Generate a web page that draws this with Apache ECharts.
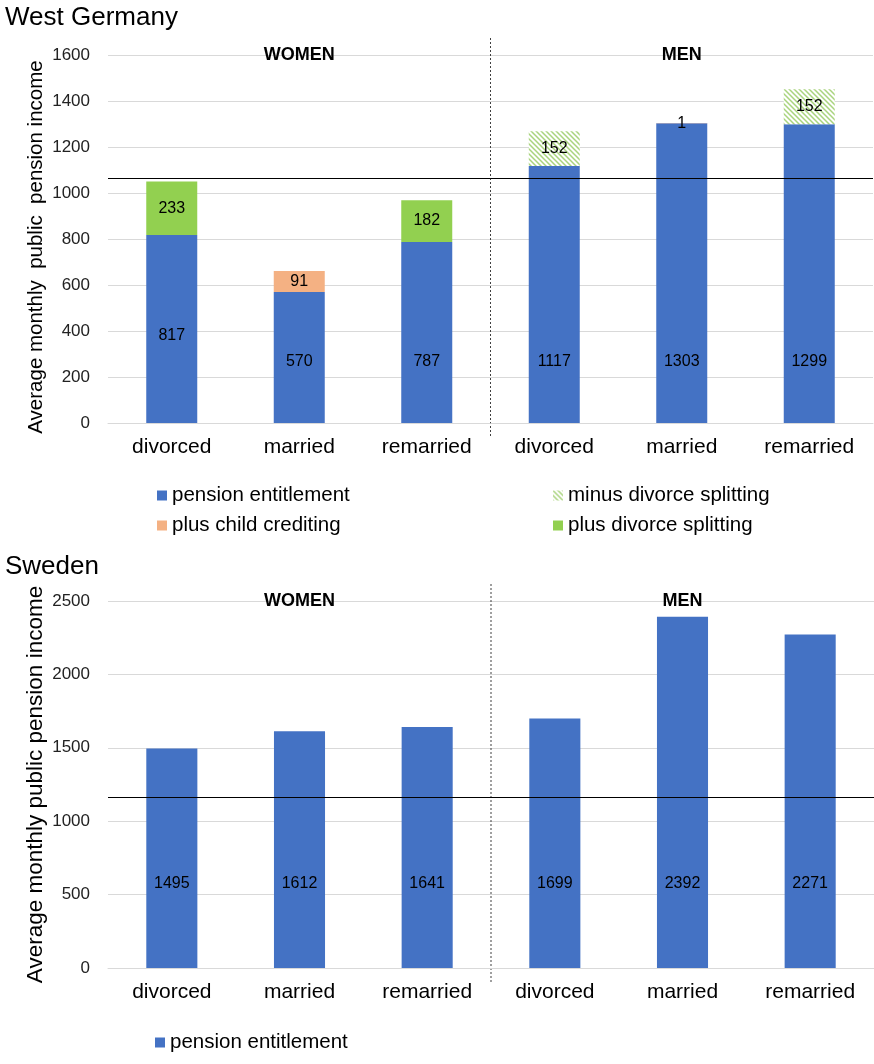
<!DOCTYPE html>
<html>
<head>
<meta charset="utf-8">
<script src="https://cdn.jsdelivr.net/npm/echarts@6/dist/echarts.min.js"></script>
<style>
html,body{margin:0;padding:0;background:#fff;}
#c{width:874px;height:1064px;}
</style>
</head>
<body>
<div id="c"></div>
<script>
// ---- data ----
const categories = ['divorced', 'married', 'remarried', 'divorced', 'married', 'remarried'];
const groups = ['WOMEN', 'MEN'];
const deTitle = 'West Germany';
const seTitle = 'Sweden';
const yName = 'Average monthly  public  pension income';
const yNameSe = 'Average monthly public pension income';

const dePension = [817, 570, 787, 1117, 1303, 1299];
const deChild = [0, 91, 0, 0, 1, 0];
const dePlusSplit = [233, 0, 182, 0, 0, 0];
const deMinusSplit = [0, 0, 0, 152, 0, 152];
const deRef = 1065;

const sePension = [1495, 1612, 1641, 1699, 2392, 2271];
const seRef = 1165;

const deAxis = { min: 0, max: 1600, interval: 200 };
const seAxis = { min: 0, max: 2500, interval: 500 };

// ---- style ----
const FONT = 'Liberation Sans, Arial, sans-serif';
const C_PENSION = '#4472c4', C_CHILD = '#f4b183', C_PLUS = '#92d050';

function hatch() {
  const s = 5;
  const c = document.createElement('canvas');
  c.width = s; c.height = s;
  const g = c.getContext('2d');
  g.fillStyle = '#ffffff'; g.fillRect(0, 0, s, s);
  g.strokeStyle = '#a9d47e'; g.lineWidth = 1.5;
  g.beginPath();
  g.moveTo(0, 0); g.lineTo(s, s);
  g.moveTo(-1, s - 1); g.lineTo(1, s + 1);
  g.moveTo(s - 1, -1); g.lineTo(s + 1, 1);
  g.stroke();
  return { image: c, repeat: 'repeat' };
}
const C_MINUS = hatch();

const hide0 = p => (p.value ? String(p.value) : '');
const inLabel = { show: true, position: 'inside', color: '#000', fontSize: 16, fontFamily: FONT, formatter: hide0 };

function refLine(v) {
  return { silent: true, symbol: 'none', label: { show: false },
    lineStyle: { color: '#000', width: 1, type: 'solid' }, data: [{ yAxis: v }] };
}

function pensionItems(vals, lift, special) {
  return vals.map((v, i) => ({ value: v, label: { distance: (special && special[i] != null) ? special[i] : lift } }));
}

const xAxisBase = (gi) => ({
  type: 'category', gridIndex: gi, data: categories,
  axisLine: { lineStyle: { color: '#d9d9d9', width: 1 } },
  axisTick: { show: false },
  axisLabel: { color: '#000', fontSize: 21, fontFamily: FONT, margin: 14 }
});
const yAxisBase = (gi, ax, name, nameSize, namePad) => ({
  type: 'value', gridIndex: gi, min: ax.min, max: ax.max, interval: ax.interval,
  name: name, nameLocation: 'middle', nameGap: 61, nameMoveOverlap: false,
  nameTextStyle: { color: '#000', fontSize: nameSize, fontFamily: FONT, padding: namePad },
  axisLine: { show: false }, axisTick: { show: false },
  axisLabel: { color: '#222', fontSize: 17, fontFamily: FONT, margin: 18, formatter: v => String(v) },
  splitLine: { lineStyle: { color: '#d9d9d9', width: 1 } }
});

const legendText = { fontSize: 20.5, color: '#000', fontFamily: FONT };

const chart = echarts.init(document.getElementById('c'), null, { renderer: 'canvas' });
const option = {
  animation: false,
  backgroundColor: '#fff',
  title: [
    { text: deTitle, left: 0, top: 0, textStyle: { fontSize: 26, fontWeight: 'normal', color: '#000', fontFamily: FONT } },
    { text: seTitle, left: 0, top: 549, textStyle: { fontSize: 26, fontWeight: 'normal', color: '#000', fontFamily: FONT } }
  ],
  grid: [
    { left: 108, top: 55, width: 765, height: 368 },
    { left: 108, top: 601, width: 766, height: 367 }
  ],
  legend: [
    { data: ['pension entitlement', 'plus child crediting'], orient: 'vertical', left: 152, top: 480,
      itemWidth: 10, itemHeight: 10, itemGap: 9, icon: 'rect', textStyle: legendText },
    { data: ['minus divorce splitting', 'plus divorce splitting'], orient: 'vertical', left: 548, top: 480,
      itemWidth: 10, itemHeight: 10, itemGap: 9, icon: 'rect', textStyle: legendText },
    { data: [{ name: 'pension entitlement ' }], orient: 'vertical', left: 150, top: 1027,
      itemWidth: 10, itemHeight: 10, icon: 'rect',
      formatter: n => n.trim(), textStyle: legendText }
  ],
  xAxis: [xAxisBase(0), xAxisBase(1)],
  yAxis: [yAxisBase(0, deAxis, yName, 20.5, [0, 16, 0, 0]), yAxisBase(1, seAxis, yNameSe, 22.5, [0, 0, 0, 0])],
  series: [
    { name: 'pension entitlement', type: 'bar', stack: 'de', xAxisIndex: 0, yAxisIndex: 0, barWidth: '40%',
      itemStyle: { color: C_PENSION },
      label: Object.assign({}, inLabel, { position: 'insideBottom', distance: 53 }),
      data: pensionItems(dePension, 53, { 0: 79 }),
      markLine: refLine(deRef) },
    { name: 'plus child crediting', type: 'bar', stack: 'de', xAxisIndex: 0, yAxisIndex: 0, barWidth: '40%',
      itemStyle: { color: C_CHILD }, label: inLabel, data: deChild },
    { name: 'plus divorce splitting', type: 'bar', stack: 'de', xAxisIndex: 0, yAxisIndex: 0, barWidth: '40%',
      itemStyle: { color: C_PLUS }, label: inLabel, data: dePlusSplit },
    { name: 'minus divorce splitting', type: 'bar', stack: 'de', xAxisIndex: 0, yAxisIndex: 0, barWidth: '40%',
      itemStyle: { color: C_MINUS }, label: inLabel, data: deMinusSplit },
    { name: 'pension entitlement ', type: 'bar', xAxisIndex: 1, yAxisIndex: 1, barWidth: '40%',
      itemStyle: { color: C_PENSION },
      label: Object.assign({}, inLabel, { position: 'insideBottom', distance: 76 }),
      data: sePension,
      markLine: refLine(seRef) }
  ]
};
chart.setOption(option);

// headers and divider placed via axis scales
function overlay(gi, ax) {
  const f = (i, v) => chart.convertToPixel({ xAxisIndex: gi, yAxisIndex: gi }, [i, v]);
  const top = f(1, ax.max)[1], base = f(1, ax.min)[1];
  const xw = f(1, ax.max)[0], xm = f(4, ax.max)[0];
  const xd = (f(2, 0)[0] + f(3, 0)[0]) / 2;
  const t = (txt, x) => ({ type: 'text', x: x, y: top, silent: true,
    style: { text: txt, fill: '#000', font: 'bold 18px ' + FONT, textAlign: 'center', textVerticalAlign: 'middle' } });
  return [
    t(groups[0], xw), t(groups[1], xm),
    { type: 'line', silent: true, shape: { x1: xd, y1: top - 17, x2: xd, y2: base + 15 },
      style: { stroke: '#404040', lineWidth: 1, lineDash: [2, 2] } }
  ];
}
chart.setOption({ graphic: overlay(0, deAxis).concat(overlay(1, seAxis)) });
</script>
</body>
</html>
